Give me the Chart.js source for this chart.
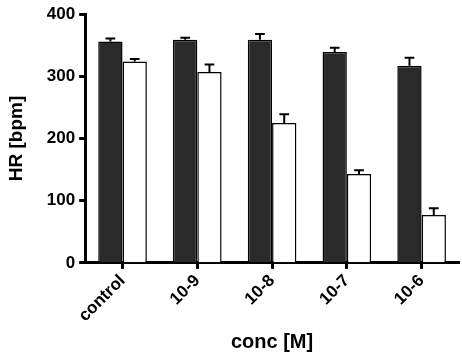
<!DOCTYPE html>
<html>
<head>
<meta charset="utf-8">
<script src="https://cdn.jsdelivr.net/npm/chart.js@4"></script>
<style>
  html, body { margin: 0; padding: 0; background: #fff; }
  #wrap { width: 462px; height: 360px; }
</style>
</head>
<body>
<div id="wrap"><canvas id="hr"></canvas></div>
<script>
const concLabels = ["control", "10-9", "10-8", "10-7", "10-6"];
const darkValues = [356, 359, 359, 339, 317];
const darkErrors = [5, 3, 9, 7, 13];
const whiteValues = [324, 307, 225, 143, 77];
const whiteErrors = [4, 12, 14, 6, 11];
const yTicks = [0, 100, 200, 300, 400];

const FONT = "'Liberation Sans', Arial, Helvetica, sans-serif";

// draws the upper error whiskers on top of each bar
const errorBars = {
  id: "errorBars",
  afterDatasetsDraw(chart) {
    const ctx = chart.ctx;
    const y = chart.scales.y;
    ctx.save();
    ctx.strokeStyle = "#000";
    ctx.lineWidth = 2;
    chart.data.datasets.forEach((ds, i) => {
      const meta = chart.getDatasetMeta(i);
      meta.data.forEach((bar, j) => {
        const top = y.getPixelForValue(ds.data[j] + ds.errors[j]);
        const base = y.getPixelForValue(ds.data[j]);
        const half = bar.width * 0.2;
        ctx.beginPath();
        ctx.moveTo(bar.x, base);
        ctx.lineTo(bar.x, top);
        ctx.moveTo(bar.x - half, top);
        ctx.lineTo(bar.x + half, top);
        ctx.stroke();
      });
    });
    ctx.restore();
  },
};

const createBarGraph = (canvas) => {
  const ctx = canvas.getContext("2d");

  return new Chart(ctx, {
    type: "bar",
    data: {
      labels: concLabels,
      datasets: [
        {
          label: "dark",
          data: darkValues,
          errors: darkErrors,
          backgroundColor: "#2a2a2a",
          borderColor: "#000",
          borderWidth: 1.5,
        },
        {
          label: "white",
          data: whiteValues,
          errors: whiteErrors,
          backgroundColor: "#fff",
          borderColor: "#000",
          borderWidth: 1.5,
        },
      ],
    },
    options: {
      responsive: true,
      maintainAspectRatio: false,
      animation: false,
      layout: { padding: { top: 2, right: 3, left: 5, bottom: 6 } },
      datasets: {
        bar: { categoryPercentage: 0.65, barPercentage: 1.0 },
      },
      scales: {
        y: {
          min: 0,
          max: 400,
          afterBuildTicks: (axis) => {
            axis.ticks = yTicks.map((v) => ({ value: v }));
          },
          ticks: {
            color: "#000",
            padding: 4,
            font: { family: FONT, size: 17, weight: "bold" },
          },
          border: { display: true, color: "#000", width: 3 },
          grid: {
            drawOnChartArea: false,
            drawTicks: true,
            tickLength: 6,
            tickWidth: 3,
            tickColor: "#000",
          },
          title: {
            display: true,
            text: "HR [bpm]",
            color: "#000",
            padding: { top: 0, bottom: 15 },
            font: { family: FONT, size: 19, weight: "bold" },
          },
        },
        x: {
          ticks: {
            color: "#000",
            minRotation: 45,
            maxRotation: 45,
            padding: 2,
            font: { family: FONT, size: 17, weight: "bold" },
          },
          border: { display: true, color: "#000", width: 3 },
          grid: {
            offset: false,
            drawOnChartArea: false,
            drawTicks: true,
            tickLength: 6,
            tickWidth: 3,
            tickColor: "#000",
          },
          title: {
            display: true,
            text: "conc [M]",
            color: "#000",
            padding: { top: 2, bottom: 0 },
            font: { family: FONT, size: 20, weight: "bold" },
          },
        },
      },
      plugins: {
        legend: { display: false },
        tooltip: { enabled: false },
      },
    },
    plugins: [errorBars],
  });
};

createBarGraph(document.getElementById("hr"));
</script>
</body>
</html>
